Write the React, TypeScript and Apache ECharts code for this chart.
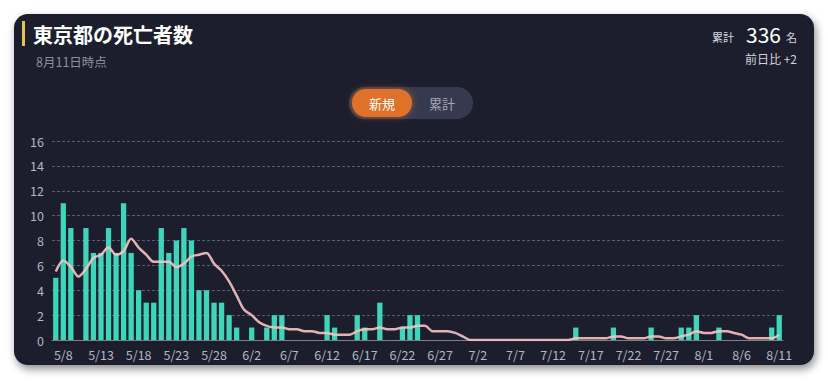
import React, { useEffect, useRef } from "react";
import * as echarts from "echarts";

const dates = [
  "5/7","5/8","5/9","5/10","5/11","5/12","5/13","5/14","5/15","5/16","5/17","5/18","5/19","5/20","5/21","5/22","5/23","5/24","5/25","5/26","5/27","5/28","5/29","5/30","5/31",
  "6/1","6/2","6/3","6/4","6/5","6/6","6/7","6/8","6/9","6/10","6/11","6/12","6/13","6/14","6/15","6/16","6/17","6/18","6/19","6/20","6/21","6/22","6/23","6/24","6/25","6/26","6/27","6/28","6/29","6/30",
  "7/1","7/2","7/3","7/4","7/5","7/6","7/7","7/8","7/9","7/10","7/11","7/12","7/13","7/14","7/15","7/16","7/17","7/18","7/19","7/20","7/21","7/22","7/23","7/24","7/25","7/26","7/27","7/28","7/29","7/30","7/31",
  "8/1","8/2","8/3","8/4","8/5","8/6","8/7","8/8","8/9","8/10","8/11",
];

const dailyDeaths = [
  5,11,9,0,9,7,7,9,7,11,7,4,3,3,9,7,8,9,8,4,4,3,3,2,1,
  0,1,0,1,2,2,0,0,0,0,0,2,1,0,0,2,1,0,3,0,0,1,2,2,0,0,0,0,0,0,
  0,0,0,0,0,0,0,0,0,0,0,0,0,0,1,0,0,0,0,1,0,0,0,0,1,0,0,0,1,1,2,
  0,0,1,0,0,0,0,0,0,1,2,
];

const weeklyAverage = [
  5.5,6.4,5.9,5.1,5.7,6.6,6.86,7.43,6.86,7.14,8.14,7.43,6.86,6.29,6.29,6.29,5.86,6.14,6.71,6.86,7.0,6.14,5.57,4.71,3.57,
  2.43,2.0,1.43,1.14,1.0,1.0,0.86,0.86,0.71,0.71,0.57,0.57,0.43,0.43,0.43,0.71,0.86,0.86,1.0,0.86,0.86,1.0,1.0,1.14,1.14,0.71,0.71,0.71,0.57,0.29,
  0,0,0,0,0,0,0,0,0,0,0,0,0,0,0.14,0.14,0.14,0.14,0.14,0.29,0.29,0.14,0.14,0.14,0.29,0.29,0.14,0.14,0.29,0.43,0.71,
  0.57,0.57,0.71,0.71,0.57,0.43,0.14,0.14,0.14,0.14,0.43,
];

const yTicks = { min: 0, max: 16, interval: 2 };

const FONT = "'Noto Sans CJK JP', 'Noto Sans', sans-serif";

export default function App() {
  const ref = useRef<HTMLDivElement>(null);

  useEffect(() => {
    if (!ref.current) return;
    const chart = echarts.init(ref.current, undefined, { renderer: "svg" });
    chart.setOption({
      animation: false,
      backgroundColor: "transparent",
      textStyle: { fontFamily: FONT },
      grid: { left: 52, right: 45, top: 141, bottom: 41 },
      xAxis: {
        type: "category",
        data: dates,
        boundaryGap: true,
        axisLine: { show: true, lineStyle: { color: "#7c7f8e", width: 1 } },
        axisTick: { show: false },
        axisLabel: {
          color: "#b4b7c4",
          fontSize: 12.5,
          margin: 8,
          fontFamily: FONT,
          interval: (idx: number) => (idx - 1) % 5 === 0,
        },
      },
      yAxis: {
        type: "value",
        min: yTicks.min,
        max: yTicks.max,
        interval: yTicks.interval,
        axisLine: { show: false },
        axisTick: { show: false },
        axisLabel: { color: "#b4b7c4", fontSize: 12.5, margin: 8, fontFamily: FONT },
        splitLine: { lineStyle: { color: "#5a5d6e", type: [3, 2], width: 1 } },
      },
      series: [
        {
          type: "bar",
          data: dailyDeaths,
          barCategoryGap: "30%",
          itemStyle: { color: "#3fd5ba" },
          z: 2,
        },
        {
          type: "line",
          data: weeklyAverage,
          smooth: 0.3,
          symbol: "none",
          lineStyle: { color: "rgba(248,194,194,0.9)", width: 2.5 },
          z: 3,
        },
      ],
      graphic: [
        { type: "rect", shape: { x: 22, y: 21, width: 3, height: 25 }, style: { fill: "#e6c44a" } },
        {
          type: "text", x: 33, y: 34,
          style: { text: "東京都の死亡者数", fill: "#ffffff", fontSize: 20, fontWeight: "bold", fontFamily: FONT, verticalAlign: "middle" },
        },
        {
          type: "text", x: 36, y: 61,
          style: { text: "8月11日時点", fill: "#8c8fa0", fontSize: 12.5, fontFamily: FONT, verticalAlign: "middle" },
        },
        {
          type: "text", x: 734, y: 37,
          style: { text: "累計", fill: "#d6d8e0", fontSize: 11, fontFamily: FONT, align: "right", verticalAlign: "middle" },
        },
        {
          type: "text", x: 781, y: 34,
          style: { text: "336", fill: "#ffffff", fontSize: 21, fontFamily: FONT, align: "right", verticalAlign: "middle" },
        },
        {
          type: "text", x: 797, y: 37,
          style: { text: "名", fill: "#d6d8e0", fontSize: 11, fontFamily: FONT, align: "right", verticalAlign: "middle" },
        },
        {
          type: "text", x: 797, y: 58,
          style: { text: "前日比 +2", fill: "#d0d2dc", fontSize: 12, fontFamily: FONT, align: "right", verticalAlign: "middle" },
        },
        {
          type: "rect", shape: { x: 349, y: 87, width: 124, height: 32, r: 16 },
          style: { fill: "#373a4e" },
        },
        {
          type: "rect", shape: { x: 352, y: 89, width: 60, height: 28, r: 14 },
          style: { fill: "#e0712b", shadowBlur: 6, shadowColor: "rgba(224,113,43,0.6)" },
        },
        {
          type: "text", x: 382, y: 103,
          style: { text: "新規", fill: "#ffffff", fontSize: 13, fontFamily: FONT, align: "center", verticalAlign: "middle" },
        },
        {
          type: "text", x: 442, y: 103,
          style: { text: "累計", fill: "#a6a9b8", fontSize: 13, fontFamily: FONT, align: "center", verticalAlign: "middle" },
        },
      ],
    });
    return () => chart.dispose();
  }, []);

  return (
    <div style={{ position: "fixed", left: 0, top: 0, width: 828, height: 381, background: "#ffffff" }}>
      <div
        style={{
          position: "absolute",
          left: 14,
          top: 14,
          width: 800,
          height: 351,
          borderRadius: 14,
          background: "#1c1e2d",
          boxShadow: "2px 4px 8px rgba(0,0,0,0.45)",
        }}
      />
      <div ref={ref} style={{ position: "absolute", left: 0, top: 0, width: 828, height: 381 }} />
    </div>
  );
}
